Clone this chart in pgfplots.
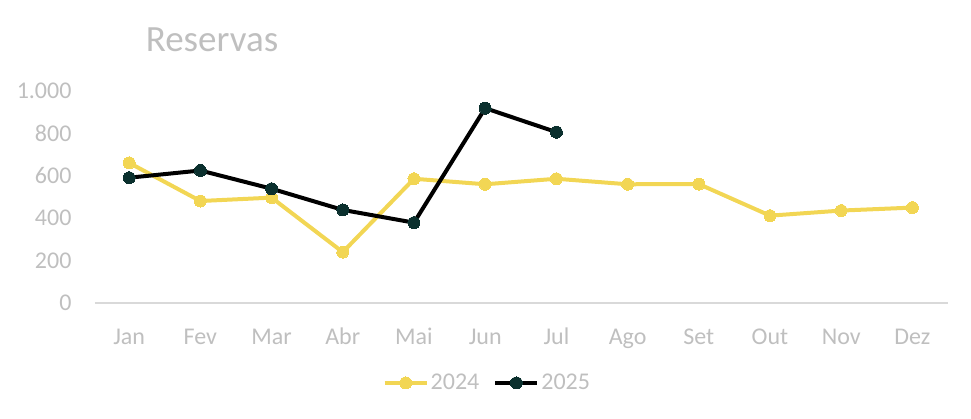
\documentclass[border=0pt]{standalone}
\usepackage{fontspec}
\setmainfont{Carlito}
\usepackage{pgfplots}
\pgfplotsset{compat=1.18}
\definecolor{yel}{HTML}{F2D654}
\definecolor{dk}{HTML}{0B302E}
\definecolor{txt}{HTML}{BFBFBF}
\definecolor{axl}{HTML}{D9D9D9}
\begin{document}
\begin{tikzpicture}
\begin{axis}[
  scale only axis,
  width=853pt, height=212pt,
  xmin=-0.48, xmax=11.5,
  ymin=0, ymax=1000,
  xtick={0,...,11},
  xticklabels={Jan,Fev,Mar,Abr,Mai,Jun,Jul,Ago,Set,Out,Nov,Dez},
  ytick={0,200,...,1000},
  /pgf/number format/assume math mode=true,
  /pgf/number format/1000 sep={.},
  axis x line*=bottom,
  axis y line*=left,
  x axis line style={draw=axl, line width=1.5pt, -},
  y axis line style={draw=none},
  tick style={draw=none},
  ticklabel style={font=\fontsize{24}{27}\selectfont, text=txt},
  xticklabel style={anchor=base, yshift=-42pt},
  yticklabel style={xshift=-20pt},
  legend style={at={(0.46,-0.377)}, anchor=center, draw=none, fill=none,
    legend columns=2, font=\fontsize{24}{27}\selectfont, text=txt,
    /tikz/every even column/.append style={column sep=12pt}},
  legend image code/.code={\draw[mark repeat=2,mark phase=2,#1] plot coordinates {(0pt,0pt)(21pt,0pt)(42pt,0pt)};},
  clip=false,
]
\addplot[color=yel, line width=4pt, mark=*, mark size=6pt, mark options={fill=yel, draw=yel, line width=0pt}] coordinates {
(0,661) (1,481) (2,497) (3,240) (4,586) (5,560) (6,586) (7,560) (8,561) (9,412) (10,436) (11,450)};
\addlegendentry{2024}
\addplot[color=black, line width=4pt, mark=*, mark size=6pt, mark options={fill=dk, draw=dk, line width=0pt}] coordinates {
(0,591) (1,625) (2,539) (3,439) (4,379) (5,919) (6,806)};
\addlegendentry{2025}
\end{axis}
\node[anchor=base, text=txt, font=\fontsize{37}{40}\selectfont] at (117pt,251pt) {Reservas};
\path[use as bounding box] (-95pt,-116pt) rectangle (876pt,303pt);
\end{tikzpicture}
\end{document}
